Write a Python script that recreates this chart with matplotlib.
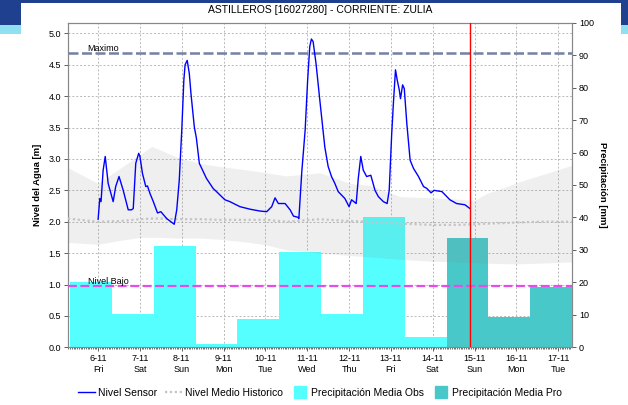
import matplotlib
matplotlib.use('Agg')
import numpy as np
import matplotlib.pyplot as plt
from matplotlib.lines import Line2D
from matplotlib.patches import Rectangle
from matplotlib.ticker import MultipleLocator, FormatStrFormatter

plt.rcParams['font.family'] = ['Liberation Sans', 'DejaVu Sans']

# ------- data (x in days, 0 = 6-11) -------
day_labels = ['6-11', '7-11', '8-11', '9-11', '10-11', '11-11',
              '12-11', '13-11', '14-11', '15-11', '16-11', '17-11']
weekdays = ['Fri', 'Sat', 'Sun', 'Mon', 'Tue', 'Wed',
            'Thu', 'Fri', 'Sat', 'Sun', 'Mon', 'Tue']

precip_obs = [20.2, 10.3, 31.3, 0.9, 8.8, 29.5, 10.3, 40.0, 3.3]   # 6-11 .. 14-11
precip_pro = [33.8, 9.4, 18.5]                                      # 15-11 .. 17-11

sensor_x = [0.00, 0.04, 0.07, 0.12, 0.17, 0.24, 0.36, 0.42, 0.50, 0.60,
            0.72, 0.80, 0.84, 0.90, 0.97, 1.00, 1.06, 1.14, 1.18, 1.24,
            1.32, 1.42, 1.50, 1.64, 1.82, 1.88, 1.94, 2.00, 2.05, 2.08,
            2.13, 2.18, 2.22, 2.30, 2.35, 2.42, 2.59, 2.75, 2.83, 3.03,
            3.15, 3.39, 3.63, 3.87, 4.03, 4.15, 4.23, 4.31, 4.47, 4.59,
            4.67, 4.78, 4.80, 4.87, 4.95, 5.01, 5.06, 5.10, 5.14, 5.21,
            5.30, 5.42, 5.50, 5.58, 5.66, 5.74, 5.90, 6.00, 6.06, 6.17,
            6.22, 6.28, 6.34, 6.42, 6.52, 6.62, 6.70, 6.82, 6.91, 6.96,
            7.02, 7.06, 7.11, 7.15, 7.20, 7.23, 7.28, 7.32, 7.38, 7.46,
            7.54, 7.66, 7.78, 7.86, 7.96, 8.03, 8.22, 8.41, 8.57, 8.77,
            8.89]
sensor_level = [2.04, 2.37, 2.32, 2.82, 3.04, 2.61, 2.32, 2.56, 2.72, 2.50,
                2.19, 2.19, 2.21, 2.93, 3.09, 3.04, 2.77, 2.56, 2.57, 2.45,
                2.32, 2.14, 2.16, 2.05, 1.96, 2.19, 2.66, 3.46, 4.26, 4.50,
                4.57, 4.36, 4.04, 3.51, 3.33, 2.93, 2.69, 2.53, 2.48, 2.35,
                2.32, 2.24, 2.20, 2.17, 2.16, 2.24, 2.38, 2.29, 2.29, 2.19,
                2.09, 2.07, 2.05, 2.80, 3.46, 4.26, 4.79, 4.91, 4.87, 4.52,
                3.94, 3.19, 2.88, 2.72, 2.61, 2.48, 2.37, 2.24, 2.35, 2.29,
                2.69, 3.04, 2.82, 2.72, 2.74, 2.50, 2.40, 2.32, 2.29, 2.50,
                3.41, 3.89, 4.42, 4.26, 4.10, 3.96, 4.18, 4.12, 3.57, 2.98,
                2.85, 2.72, 2.56, 2.53, 2.46, 2.50, 2.48, 2.35, 2.29, 2.27,
                2.21]

hist_x = [-0.72, 0.0, 0.5, 1.0, 1.28, 1.5, 1.88, 2.43, 2.91, 3.5, 4.03, 4.5,
          5.3, 6.02, 6.5, 7.22, 8.0, 8.6, 9.0, 9.29, 9.77, 10.09, 10.57, 11.33]
hist_upper = [2.86, 2.61, 2.84, 3.07, 3.20, 3.14, 3.03, 2.93, 2.88, 2.83, 2.78, 2.73,
              2.78, 2.61, 2.58, 2.40, 2.38, 2.36, 2.34, 2.45, 2.56, 2.64, 2.74, 2.90]
hist_lower = [1.67, 1.64, 1.70, 1.75, 1.75, 1.75, 1.74, 1.74, 1.72, 1.68, 1.63, 1.55,
              1.50, 1.46, 1.44, 1.40, 1.37, 1.36, 1.35, 1.34, 1.33, 1.33, 1.34, 1.36]
hist_mean = [2.05, 2.00, 2.01, 2.04, 2.05, 2.05, 2.04, 2.04, 2.03, 2.03, 2.03, 2.00,
             2.04, 2.01, 2.00, 1.97, 1.95, 1.95, 1.96, 1.97, 1.98, 1.99, 2.00, 2.00]

nivel_maximo = 4.69
nivel_bajo = 0.98
now_x = 8.9

# ------- figure -------
fig = plt.figure(figsize=(6.28, 4.05), dpi=100)

# header decoration
fig.add_artist(Rectangle((0, 1 - 3 / 405), 1, 3 / 405, transform=fig.transFigure,
                         color='#1f3f8f', lw=0))
for x0, w in [(0, 21 / 628), (621 / 628, 7 / 628)]:
    fig.add_artist(Rectangle((x0, 1 - 25 / 405), w, 25 / 405, transform=fig.transFigure,
                             color='#1f3f8f', lw=0))
    fig.add_artist(Rectangle((x0, 1 - 34 / 405), w, 9 / 405, transform=fig.transFigure,
                             color='#8fe0f0', lw=0))

ax = fig.add_axes([68 / 628, 1 - 347.3 / 405, 504 / 628, 324.6 / 405])
ax.set_xlim(-0.72, 11.33)
ax.set_ylim(0, 5.17)
ax.set_yticks(np.arange(0, 5.01, 0.5))
ax.yaxis.set_major_formatter(FormatStrFormatter('%.1f'))
ax.set_xticks(range(len(day_labels)))
ax.set_xticklabels([f'{d}\n{w}' for d, w in zip(day_labels, weekdays)], linespacing=1.3)
ax.xaxis.set_minor_locator(MultipleLocator(1 / 24))
ax.grid(True, which='major', color='#b8b8b8', linestyle=(0, (2, 2)), linewidth=0.7)
ax.tick_params(axis='both', which='major', labelsize=6.5, length=3, width=0.6,
               color='#444444', pad=2)
ax.tick_params(axis='x', which='minor', length=1.5, width=0.5, color='#333333')
for s in ax.spines.values():
    s.set_color('#888888')
ax.set_ylabel('Nivel del Agua [m]', fontsize=6.8, fontweight='bold', va='center')
ax.yaxis.set_label_coords(-0.06, 0.5)

# precipitation bars (right axis)
ax_p = ax.twinx()
ax_p.set_ylim(0, 100)
ax_p.set_yticks(range(0, 101, 10))
ax_p.tick_params(axis='y', labelsize=6.5, length=3, width=0.6, color='#444444', pad=2)
for s in ax_p.spines.values():
    s.set_color('#888888')
obs_days = np.arange(len(precip_obs))
pro_days = np.arange(len(precip_obs), len(precip_obs) + len(precip_pro))
ax_p.bar(obs_days - 0.17, precip_obs, width=1.0, color='#55ffff', linewidth=0)
ax_p.bar(pro_days - 0.17, precip_pro, width=1.0, color='#48c8c8', linewidth=0)
ax_p.set_ylabel('Precipitación [mm]', fontsize=6.8, fontweight='bold', rotation=270,
                va='center')
ax_p.yaxis.set_label_coords(1.0615, 0.5)

# water level layer on top
ax_l = ax.twinx()
ax_l.set_ylim(ax.get_ylim())
ax_l.axis('off')
ax_l.fill_between(hist_x, hist_lower, hist_upper, color='#828282', alpha=0.12, lw=0)
ax_l.plot(hist_x, hist_mean, color='#c4c4c4', lw=1.6, linestyle=(0, (1, 1.2)))
ax_l.axhline(nivel_maximo, color='#7480a4', lw=1.8, dashes=(4, 1.4))
ax_l.axhline(nivel_bajo, color='#e84ce8', lw=1.6, dashes=(4, 1.6))
ax_l.text(-0.25, nivel_maximo, 'Maximo', fontsize=6.5, va='bottom', ha='left')
ax_l.text(-0.25, nivel_bajo, 'Nivel Bajo', fontsize=6.5, va='bottom', ha='left')
ax_l.plot(sensor_x, sensor_level, color='#0000ff', lw=1.0)
ax_l.axvline(now_x, color='#ff0000', lw=1.0)

fig.text((68 + 572) / 2 / 628, 1 - 10 / 405, 'ASTILLEROS [16027280] - CORRIENTE: ZULIA',
         ha='center', va='center', fontsize=7.5)

handles = [
    Line2D([], [], color='#0000ff', lw=1.0),
    Line2D([], [], color='#c4c4c4', lw=1.6, linestyle=(0, (1, 1.2))),
    Line2D([], [], marker='s', linestyle='none', markersize=8, color='#55ffff'),
    Line2D([], [], marker='s', linestyle='none', markersize=8, color='#48c8c8'),
]
labels = ['Nivel Sensor', 'Nivel Medio Historico', 'Precipitación Media Obs',
          'Precipitación Media Pro']
fig.legend(handles, labels, loc='center', bbox_to_anchor=(320 / 628, 1 - 393 / 405),
           ncol=4, frameon=False, fontsize=7.5, handlelength=1.6, handletextpad=0.3,
           columnspacing=0.8)

fig.savefig('out.png', dpi=100)
